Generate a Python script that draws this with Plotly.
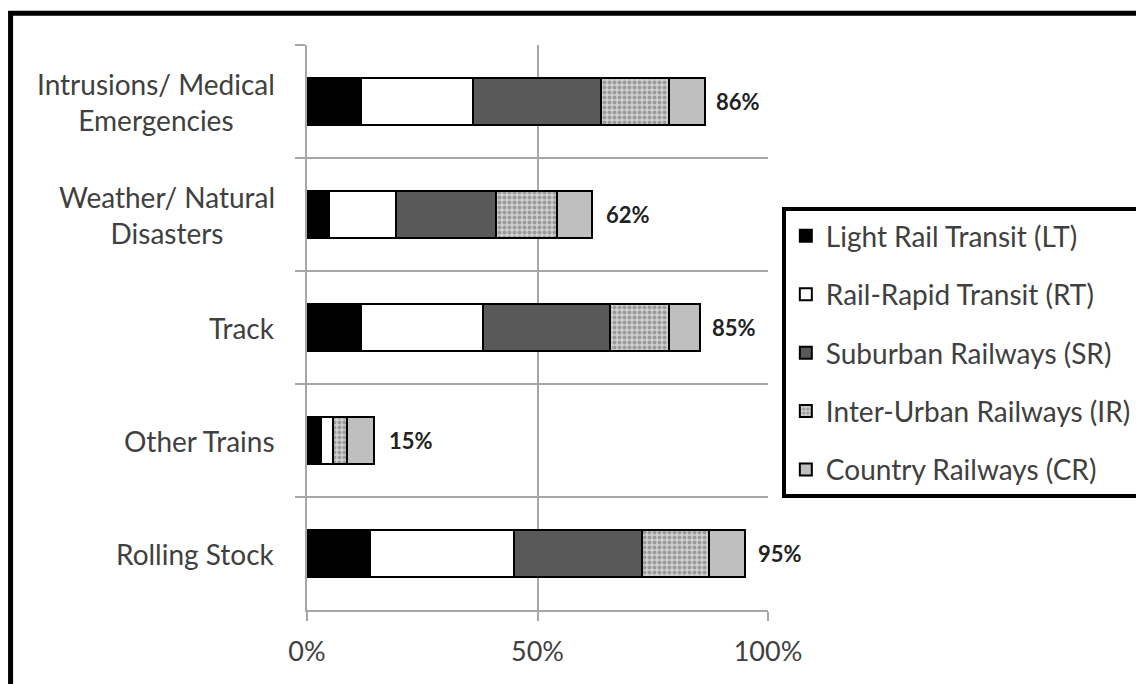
import plotly.graph_objects as go

categories = ["Intrusions/ Medical<br>Emergencies", "Weather/ Natural<br>Disasters",
              "Track", "Other Trains", "Rolling Stock"]
series_names = ["Light Rail Transit (LT)", "Rail-Rapid Transit (RT)", "Suburban Railways (SR)",
                "Inter-Urban Railways (IR)", "Country Railways (CR)"]
lt = [11.7, 4.8, 11.7, 3.0, 13.7]
rt = [24.2, 14.5, 26.4, 2.6, 31.2]
sr = [27.9, 21.8, 27.6, 0.0, 27.7]
ir = [14.7, 13.1, 12.8, 3.0, 14.7]
cr = [7.8, 7.7, 6.7, 5.9, 7.7]
totals = [86, 62, 85, 15, 95]
x_ticks = [0, 50, 100]
x_tick_labels = ["0%", "50%", "100%"]

FONT = "Lato"
values = [lt, rt, sr, ir, cr]
fills = ["#000000", "#ffffff", "#595959", "#c8c8c8", "#bfbfbf"]

fig = go.Figure()
for i, (name, vals, col) in enumerate(zip(series_names, values, fills)):
    marker = dict(color=col, line=dict(color="#000000", width=2))
    if i == 3:
        marker["pattern"] = dict(shape=".", fgcolor="#666666", bgcolor="#d0d0d0",
                                 size=5, solidity=0.5)
    fig.add_trace(go.Bar(y=categories, x=vals, name=name, orientation="h",
                         marker=marker, width=0.42, legendgroup=f"g{i}"))

for cat, tot in zip(categories, totals):
    fig.add_annotation(x=tot, y=cat, xref="x", yref="y", text=f"<b>{tot}%</b>",
                       showarrow=False, xanchor="left", xshift=11,
                       font=dict(family=FONT, size=22, color="#222222"))
    fig.add_annotation(x=0, y=cat, xref="paper", yref="y", text=cat,
                       showarrow=False, xanchor="right", align="center", xshift=-30,
                       font=dict(family=FONT, size=28, color="#404040"))

# outer thick frame (extends beyond the visible page at right/bottom)
fig.add_shape(type="rect", xref="paper", yref="paper",
              x0=-0.643, y0=-0.16, x1=1.86, y1=1.056,
              line=dict(color="#000000", width=5), layer="above")

fig.update_layout(
    barmode="stack",
    width=1144, height=684,
    margin=dict(l=299, r=384, t=37, b=82),
    paper_bgcolor="#ffffff", plot_bgcolor="#ffffff",
    font=dict(family=FONT, color="#404040"),
    showlegend=True,
    legend=dict(x=1.03, y=0.713, xanchor="left", yanchor="top",
                bordercolor="#000000", borderwidth=4, bgcolor="#ffffff",
                font=dict(family=FONT, size=28, color="#404040"),
                traceorder="grouped", tracegroupgap=19),
    xaxis=dict(range=[0, 100], tickvals=x_ticks, ticktext=x_tick_labels,
               showgrid=True, gridcolor="#a6a6a6", gridwidth=1.5,
               showline=True, linecolor="#a6a6a6", linewidth=1.5,
               ticks="outside", ticklen=9, tickcolor="#a6a6a6", tickwidth=1.5,
               ticklabelstandoff=8,
               tickfont=dict(family=FONT, size=27, color="#404040"),
               zeroline=False, fixedrange=True),
    yaxis=dict(autorange="reversed", tickson="boundaries", showticklabels=False,
               showgrid=True, gridcolor="#a6a6a6", gridwidth=1.5,
               showline=True, linecolor="#a6a6a6", linewidth=1.5,
               ticks="outside", ticklen=10, tickcolor="#a6a6a6", tickwidth=1.5,
               fixedrange=True),
)

fig.write_html("out.html")
